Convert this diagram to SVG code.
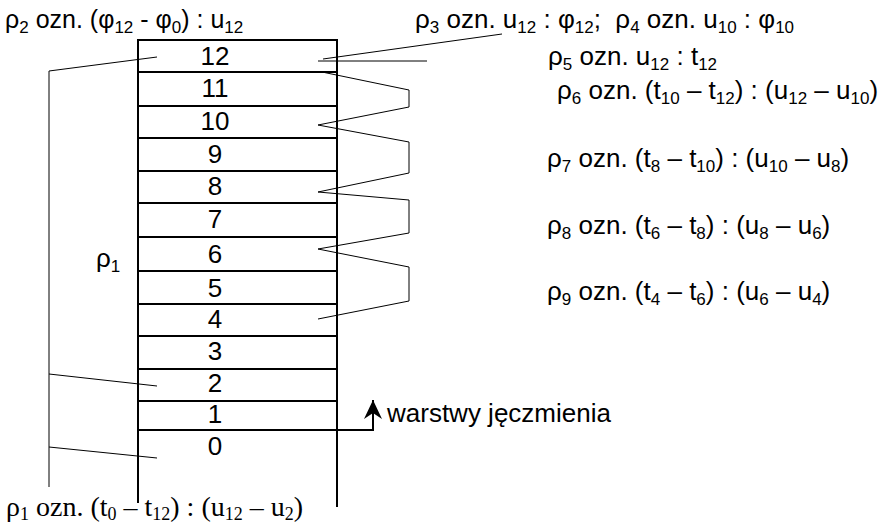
<svg xmlns="http://www.w3.org/2000/svg" width="881" height="524" viewBox="0 0 881 524">
  <style>
    .t { font-family: "Liberation Sans", Arial, sans-serif; font-size: 26px; fill: #000; }
    .ts { font-family: "Liberation Serif", "Times New Roman", serif; font-size: 28px; fill: #000; }
    .s { font-size: 17px; }
    .ss { font-size: 18px; }
    .num { font-family: "Liberation Sans", Arial, sans-serif; font-size: 26px; fill: #000; text-anchor: middle; }
    .wall { stroke: #000; stroke-width: 2; fill: none; }
    .sep { stroke: #000; stroke-width: 2; fill: none; }
    .lead { stroke: #000; stroke-width: 1; fill: none; }
  </style>
  <defs>
    <marker id="head" markerUnits="userSpaceOnUse" markerWidth="24" markerHeight="24" refX="20" refY="10" orient="auto">
      <path d="M20,10 L1,1 L7,10 L1,19 Z" fill="#000"/>
    </marker>
  </defs>

  <rect width="881" height="524" fill="#fff"/>

  <!-- column of barley layers -->
  <g id="column">
    <line class="wall" x1="138" y1="39" x2="138" y2="503"/>
    <line class="wall" x1="337" y1="39" x2="337" y2="507"/>
    <line class="sep" x1="138" y1="40" x2="337" y2="40"/>
  </g>
  <g id="layer-12"><line class="sep" x1="138" y1="72" x2="337" y2="72"/><text class="num" x="215" y="65">12</text></g>
  <g id="layer-11"><line class="sep" x1="138" y1="106" x2="337" y2="106"/><text class="num" x="215" y="97">11</text></g>
  <g id="layer-10"><line class="sep" x1="138" y1="138" x2="337" y2="138"/><text class="num" x="215" y="130">10</text></g>
  <g id="layer-9"><line class="sep" x1="138" y1="171" x2="337" y2="171"/><text class="num" x="215" y="163">9</text></g>
  <g id="layer-8"><line class="sep" x1="138" y1="203" x2="337" y2="203"/><text class="num" x="215" y="195">8</text></g>
  <g id="layer-7"><line class="sep" x1="138" y1="237" x2="337" y2="237"/><text class="num" x="215" y="228">7</text></g>
  <g id="layer-6"><line class="sep" x1="138" y1="271" x2="337" y2="271"/><text class="num" x="215" y="263">6</text></g>
  <g id="layer-5"><line class="sep" x1="138" y1="304" x2="337" y2="304"/><text class="num" x="215" y="297">5</text></g>
  <g id="layer-4"><line class="sep" x1="138" y1="336" x2="337" y2="336"/><text class="num" x="215" y="328">4</text></g>
  <g id="layer-3"><line class="sep" x1="138" y1="369" x2="337" y2="369"/><text class="num" x="215" y="360">3</text></g>
  <g id="layer-2"><line class="sep" x1="138" y1="401" x2="337" y2="401"/><text class="num" x="215" y="392">2</text></g>
  <g id="layer-1"><text class="num" x="215" y="423">1</text></g>
  <g id="layer-0"><text class="num" x="215" y="455">0</text></g>

  <!-- leaders and brackets -->
  <g id="connectors">
    <polyline class="lead" points="157,57 49,71 49,487"/>
    <line class="lead" x1="49" y1="374" x2="157" y2="386"/>
    <line class="lead" x1="49" y1="447" x2="157" y2="458"/>
    <line class="lead" x1="323" y1="59" x2="502" y2="34"/>
    <line class="lead" x1="318" y1="61" x2="427" y2="61"/>
    <polyline class="lead" points="322,72 409,90 409,107 318,125 409,142 409,173 318,192 409,200 409,233 318,249 409,267 409,301 318,319"/>
    <polyline class="sep" points="138,430 373,430 373,400" marker-end="url(#head)"/>
  </g>

  <!-- labels -->
  <g id="label-rho2">
    <text class="t" x="5" y="28" style="font-size:25px">ρ<tspan class="s" dy="5">2</tspan><tspan dy="-5"> ozn. (φ</tspan><tspan class="s" dy="5">12</tspan><tspan dy="-5"> - φ</tspan><tspan class="s" dy="5">0</tspan><tspan dy="-5">) : u</tspan><tspan class="s" dy="5">12</tspan></text>
  </g>
  <g id="label-rho3-rho4">
    <text class="t" x="415" y="28" style="white-space:pre">ρ<tspan class="s" dy="5">3</tspan><tspan dy="-5"> ozn. u</tspan><tspan class="s" dy="5">12</tspan><tspan dy="-5"> : φ</tspan><tspan class="s" dy="5">12</tspan><tspan dy="-5">;  ρ</tspan><tspan class="s" dy="5">4</tspan><tspan dy="-5"> ozn. u</tspan><tspan class="s" dy="5">10</tspan><tspan dy="-5"> : φ</tspan><tspan class="s" dy="5">10</tspan></text>
  </g>
  <g id="label-rho5">
    <text class="t" x="548" y="65">ρ<tspan class="s" dy="5">5</tspan><tspan dy="-5"> ozn. u</tspan><tspan class="s" dy="5">12</tspan><tspan dy="-5"> : t</tspan><tspan class="s" dy="5">12</tspan></text>
  </g>
  <g id="label-rho6">
    <text class="t" x="557" y="99">ρ<tspan class="s" dy="5">6</tspan><tspan dy="-5"> ozn. (t</tspan><tspan class="s" dy="5">10</tspan><tspan dy="-5"> – t</tspan><tspan class="s" dy="5">12</tspan><tspan dy="-5">) : (u</tspan><tspan class="s" dy="5">12</tspan><tspan dy="-5"> – u</tspan><tspan class="s" dy="5">10</tspan><tspan dy="-5">)</tspan></text>
  </g>
  <g id="label-rho7">
    <text class="t" x="547" y="167">ρ<tspan class="s" dy="5">7</tspan><tspan dy="-5"> ozn. (t</tspan><tspan class="s" dy="5">8</tspan><tspan dy="-5"> – t</tspan><tspan class="s" dy="5">10</tspan><tspan dy="-5">) : (u</tspan><tspan class="s" dy="5">10</tspan><tspan dy="-5"> – u</tspan><tspan class="s" dy="5">8</tspan><tspan dy="-5">)</tspan></text>
  </g>
  <g id="label-rho8">
    <text class="t" x="547" y="234">ρ<tspan class="s" dy="5">8</tspan><tspan dy="-5"> ozn. (t</tspan><tspan class="s" dy="5">6</tspan><tspan dy="-5"> – t</tspan><tspan class="s" dy="5">8</tspan><tspan dy="-5">) : (u</tspan><tspan class="s" dy="5">8</tspan><tspan dy="-5"> – u</tspan><tspan class="s" dy="5">6</tspan><tspan dy="-5">)</tspan></text>
  </g>
  <g id="label-rho9">
    <text class="t" x="547" y="300">ρ<tspan class="s" dy="5">9</tspan><tspan dy="-5"> ozn. (t</tspan><tspan class="s" dy="5">4</tspan><tspan dy="-5"> – t</tspan><tspan class="s" dy="5">6</tspan><tspan dy="-5">) : (u</tspan><tspan class="s" dy="5">6</tspan><tspan dy="-5"> – u</tspan><tspan class="s" dy="5">4</tspan><tspan dy="-5">)</tspan></text>
  </g>
  <g id="label-rho1-side">
    <text class="t" x="96" y="267">ρ<tspan class="s" dy="5">1</tspan></text>
  </g>
  <g id="label-layers">
    <text class="t" x="387" y="422">warstwy jęczmienia</text>
  </g>
  <g id="label-rho1">
    <text class="ts" x="6" y="516">ρ<tspan class="ss" dy="4">1</tspan><tspan dy="-4"> ozn. (t</tspan><tspan class="ss" dy="4">0</tspan><tspan dy="-4"> – t</tspan><tspan class="ss" dy="4">12</tspan><tspan dy="-4">) : (u</tspan><tspan class="ss" dy="4">12</tspan><tspan dy="-4"> – u</tspan><tspan class="ss" dy="4">2</tspan><tspan dy="-4">)</tspan></text>
  </g>
</svg>
